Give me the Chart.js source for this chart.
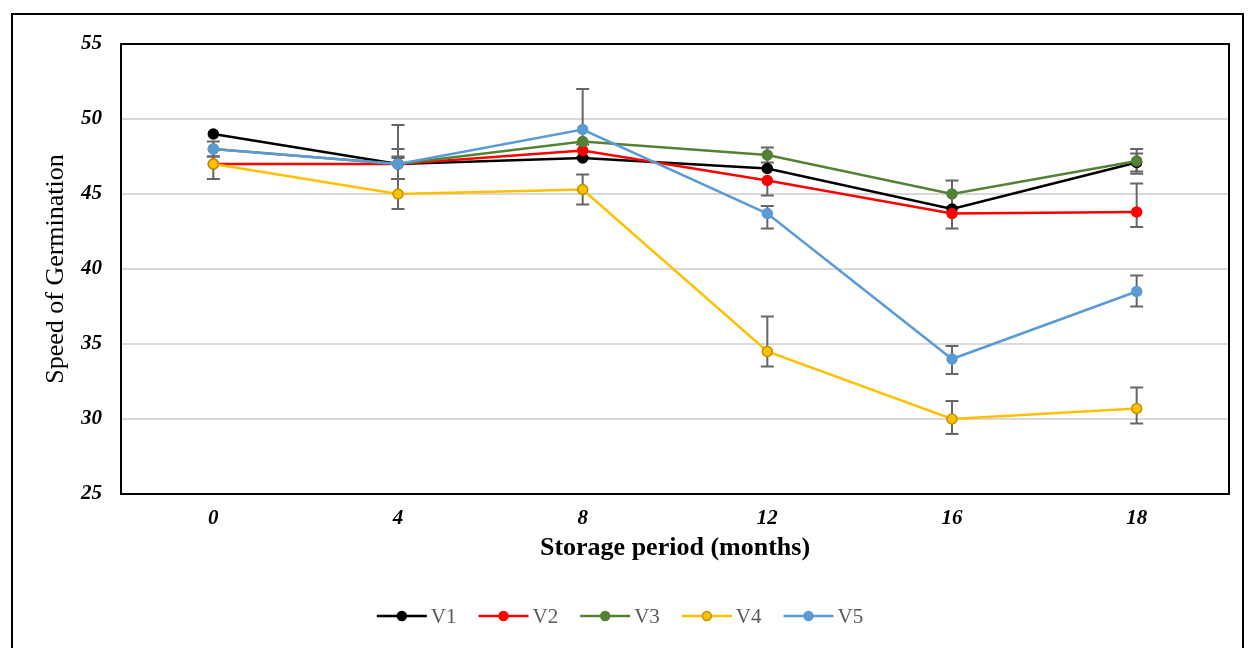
<!DOCTYPE html>
<html>
<head>
<meta charset="utf-8">
<script src="https://cdn.jsdelivr.net/npm/chart.js@4.4.0/dist/chart.umd.min.js"></script>
<style>
html, body { margin: 0; padding: 0; background: #fff; overflow: hidden; }
#wrap { position: relative; width: 1248px; height: 648px; }
#frame { position: absolute; left: 11px; top: 13px; width: 1229px; height: 700px; border: 2px solid #000; }
canvas { position: absolute; left: 0; top: 0; }
</style>
</head>
<body>
<div id="wrap">
  <div id="frame"></div>
  <canvas id="chart" width="1248" height="648"></canvas>
</div>
<script>
////////////// data //////////////
var months = ['0', '4', '8', '12', '16', '18'];

var v1 = [49, 47, 47.4, 46.7, 44, 47.1];
var v2 = [47, 47, 47.9, 45.9, 43.7, 43.8];
var v3 = [48, 47, 48.5, 47.6, 45, 47.2];
var v4 = [47, 45, 45.3, 34.5, 30, 30.7];
var v5 = [48, 47, 49.3, 43.7, 34, 38.5];

// error bars (plus / minus)
var v1Up = [0, 1, 0, 0, 0, 0.6];
var v1Down = [0, 1, 0, 0, 0, 0.6];
var v2Up = [0, 0.5, 0, 0, 0, 1.9];
var v2Down = [0, 1, 0.45, 1, 1, 1];
var v3Up = [0, 0.4, 0, 0.5, 0.9, 0.8];
var v3Down = [0, 1, 0, 0.5, 0.9, 0.85];
var v4Up = [0.5, 1, 1, 2.33, 1.2, 1.4];
var v4Down = [1, 1, 1, 1, 1, 1];
var v5Up = [0.5, 2.6, 2.7, 0.5, 0.87, 1.07];
var v5Down = [0.5, 1, 1, 1, 1, 1];

var yTicks = [25, 30, 35, 40, 45, 50, 55];

var serif = '"Liberation Serif", "Times New Roman", serif';

function series(label, data, up, down, color, border, order) {
    return {
        label: label,
        data: data,
        errUp: up,
        errDown: down,
        borderColor: color,
        backgroundColor: color,
        pointBackgroundColor: color,
        pointBorderColor: border,
        pointBorderWidth: 1.5,
        pointRadius: 5,
        borderWidth: 2.5,
        tension: 0,
        order: order
    };
}

////////////// plugins //////////////
var plotBox = {
    id: 'plotBox',
    beforeDatasetsDraw: function (chart) {
        var ctx = chart.ctx;
        ctx.save();
        // error bars sit under the lines
        ctx.strokeStyle = '#666666';
        ctx.lineWidth = 2;
        chart.data.datasets.forEach(function (ds, i) {
            var meta = chart.getDatasetMeta(i);
            var y = chart.scales.y;
            meta.data.forEach(function (pt, j) {
                var up = ds.errUp[j], down = ds.errDown[j];
                if (!up && !down) return;
                var yTop = y.getPixelForValue(ds.data[j] + up);
                var yBot = y.getPixelForValue(ds.data[j] - down);
                ctx.beginPath();
                ctx.moveTo(pt.x, yTop);
                ctx.lineTo(pt.x, yBot);
                if (up) { ctx.moveTo(pt.x - 6.5, yTop); ctx.lineTo(pt.x + 6.5, yTop); }
                if (down) { ctx.moveTo(pt.x - 6.5, yBot); ctx.lineTo(pt.x + 6.5, yBot); }
                ctx.stroke();
            });
        });
        ctx.restore();
    },
    afterDraw: function (chart) {
        var a = chart.chartArea, ctx = chart.ctx;
        ctx.save();
        ctx.strokeStyle = '#000';
        ctx.lineWidth = 2;
        ctx.strokeRect(a.left, a.top, a.right - a.left, a.bottom - a.top);

        // legend: line + marker + name
        ctx.font = '21px ' + serif;
        ctx.textBaseline = 'middle';
        var lineW = 50, gap = 4, itemGap = 22, ly = 616;
        var total = 0;
        chart.data.datasets.forEach(function (ds, i) {
            total += lineW + gap + ctx.measureText(ds.label).width;
            if (i > 0) total += itemGap;
        });
        var x = 620 - total / 2;
        chart.data.datasets.forEach(function (ds) {
            ctx.strokeStyle = ds.borderColor;
            ctx.lineWidth = 2.5;
            ctx.beginPath();
            ctx.moveTo(x, ly);
            ctx.lineTo(x + lineW, ly);
            ctx.stroke();
            ctx.beginPath();
            ctx.arc(x + lineW / 2, ly, 4.5, 0, Math.PI * 2);
            ctx.fillStyle = ds.pointBackgroundColor;
            ctx.fill();
            ctx.lineWidth = 1.5;
            ctx.strokeStyle = ds.pointBorderColor;
            ctx.stroke();
            x += lineW + gap;
            ctx.fillStyle = '#595959';
            ctx.fillText(ds.label, x, ly + 1);
            x += ctx.measureText(ds.label).width + itemGap;
        });
        ctx.restore();
    }
};

////////////// chart //////////////
var ctx = document.getElementById('chart').getContext('2d');
var chart = new Chart(ctx, {
    type: 'line',
    data: {
        labels: months,
        datasets: [
            series('V1', v1, v1Up, v1Down, '#000000', '#000000', 5),
            series('V2', v2, v2Up, v2Down, '#ff0000', '#ff0000', 4),
            series('V3', v3, v3Up, v3Down, '#548235', '#548235', 3),
            series('V4', v4, v4Up, v4Down, '#ffc000', '#bf9000', 2),
            series('V5', v5, v5Up, v5Down, '#5b9bd5', '#5b9bd5', 1)
        ]
    },
    options: {
        responsive: false,
        animation: false,
        layout: { padding: { top: 44, right: 19, bottom: 74, left: 0 } },
        plugins: {
            legend: { display: false },
            tooltip: { enabled: false }
        },
        scales: {
            x: {
                offset: true,
                grid: { display: false, drawTicks: false },
                border: { display: false },
                ticks: {
                    color: '#000',
                    padding: 12,
                    font: { family: serif, size: 21, weight: 'bold', style: 'italic' }
                },
                title: {
                    display: true,
                    text: 'Storage period (months)',
                    color: '#000',
                    padding: { top: 0, bottom: 10 },
                    font: { family: serif, size: 26, weight: 'bold' }
                },
                afterFit: function (s) { s.height = 80; }
            },
            y: {
                min: 25,
                max: 55,
                afterBuildTicks: function (s) {
                    s.ticks = yTicks.map(function (v) { return { value: v }; });
                },
                grid: { color: '#d9d9d9', lineWidth: 2, drawTicks: false },
                border: { display: false },
                ticks: {
                    color: '#000',
                    padding: 19,
                    font: { family: serif, size: 21, weight: 'bold', style: 'italic' }
                },
                title: {
                    display: true,
                    text: 'Speed of Germination',
                    color: '#000',
                    padding: { top: 41, bottom: 0 },
                    font: { family: serif, size: 26 }
                },
                afterFit: function (s) { s.width = 121; }
            }
        }
    },
    plugins: [plotBox]
});
</script>
</body>
</html>
